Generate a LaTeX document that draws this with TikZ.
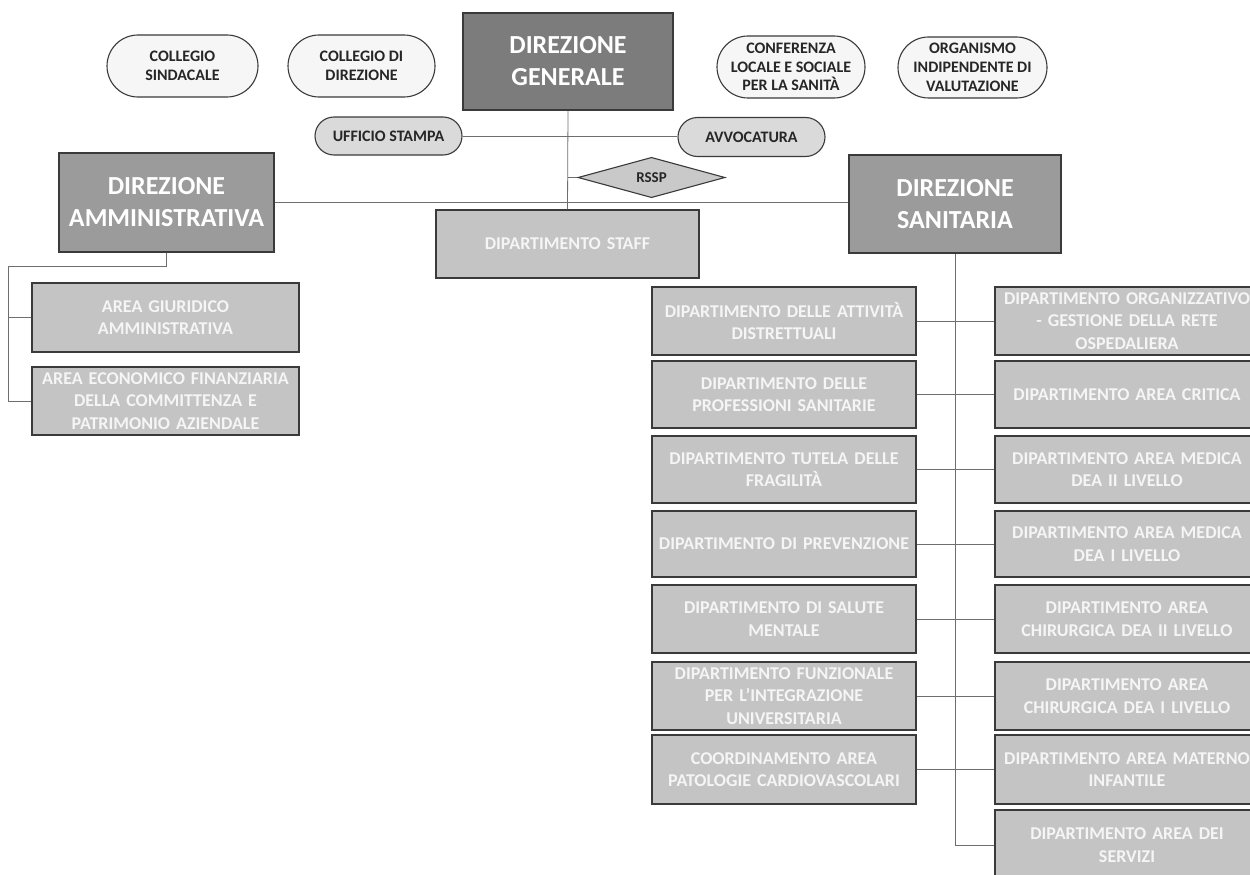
\documentclass[tikz,border=0pt]{standalone}
\usepackage{fontspec}
\setmainfont{Carlito}
\usetikzlibrary{shapes.misc,shapes.geometric}
\definecolor{dgfill}{HTML}{7C7C7C}
\definecolor{dirfill}{HTML}{9B9B9B}
\definecolor{depfill}{HTML}{C4C4C4}
\definecolor{pillfill}{HTML}{F6F6F6}
\definecolor{pillgray}{HTML}{DADADA}
\definecolor{edge}{HTML}{3A3A3A}
\definecolor{wire}{HTML}{6E6E6E}
\tikzset{
  pill/.style={rounded rectangle, draw=edge, line width=1.1pt, fill=pillfill, align=center,
     inner sep=0pt, text=black!85, font=\bfseries\fontsize{16}{18.7}\selectfont},
  pillg/.style={pill, fill=pillgray},
  bigbox/.style={rectangle, draw=edge, line width=1.2pt, align=center, inner sep=0pt,
     text=white, font=\bfseries\fontsize{26}{32}\selectfont},
  depbox/.style={rectangle, draw=edge, line width=1.2pt, fill=depfill, align=center, inner xsep=0pt, inner ysep=0pt,
     text width=264pt, minimum height=67pt, text=white!96!black, font=\bfseries\fontsize{18}{22.5}\selectfont},
  wireline/.style={draw=wire, line width=0.8pt}
}
\begin{document}
\begin{tikzpicture}[x=1pt,y=-1pt]
\useasboundingbox (0,0) rectangle (1250,875);
\clip (0,0) rectangle (1250,875);
% top pills
\node[pill, minimum width=151pt, minimum height=62pt] (cs) at (182.5,66) {COLLEGIO\\SINDACALE};
\node[pill, minimum width=147pt, minimum height=62pt] (cd) at (361.5,66) {COLLEGIO DI\\DIREZIONE};
\node[pill, minimum width=148pt, minimum height=62pt] (cf) at (791,67) {CONFERENZA\\LOCALE E SOCIALE\\PER LA SANITÀ};
\node[pill, minimum width=149pt, minimum height=61pt] (oiv) at (972.5,67.5) {ORGANISMO\\INDIPENDENTE DI\\VALUTAZIONE};
% direzione generale
\node[bigbox, fill=dgfill, minimum width=210pt, minimum height=97pt] (dg) at (568,61.5) {DIREZIONE\\GENERALE};
% staff pills
\node[pillg, minimum width=147pt, minimum height=38pt] (us) at (388.5,136) {UFFICIO STAMPA};
\node[pillg, minimum width=147pt, minimum height=39pt] (av) at (751.5,137) {AVVOCATURA};
\node[diamond, draw=edge, line width=1.1pt, fill=pillgray!92!black, inner sep=0pt, minimum width=147pt, minimum height=39pt,
      text=black!85, font=\bfseries\fontsize{15}{18}\selectfont] (rssp) at (651.5,177.5) {RSSP};
% direzioni
\node[bigbox, fill=dirfill, minimum width=215pt, minimum height=99pt] (da) at (166.5,202.5) {DIREZIONE\\AMMINISTRATIVA};
\node[bigbox, fill=dirfill, minimum width=212pt, minimum height=98pt] (ds) at (955,204) {DIREZIONE\\SANITARIA};
\node[depbox, text width=263pt, minimum height=68pt] (staff) at (567.5,244) {DIPARTIMENTO STAFF};
% area amministrativa
\node[depbox, text width=267pt, minimum height=69pt] (ag) at (165.5,317.5) {AREA GIURIDICO\\AMMINISTRATIVA};
\node[depbox, text width=267pt, minimum height=68pt] (ae) at (165.5,401) {AREA ECONOMICO FINANZIARIA\\DELLA COMMITTENZA E\\PATRIMONIO AZIENDALE};
% left column
\node[depbox, minimum height=68pt] (l1) at (784,321) {DIPARTIMENTO DELLE ATTIVITÀ\\DISTRETTUALI};
\node[depbox] (l2) at (784,394.5) {DIPARTIMENTO DELLE\\PROFESSIONI SANITARIE};
\node[depbox] (l3) at (784,469.5) {DIPARTIMENTO TUTELA DELLE\\FRAGILITÀ};
\node[depbox, minimum height=66pt] (l4) at (784,544) {DIPARTIMENTO DI PREVENZIONE};
\node[depbox, minimum height=68pt] (l5) at (784,619) {DIPARTIMENTO DI SALUTE\\MENTALE};
\node[depbox, minimum height=68pt] (l6) at (784,696) {DIPARTIMENTO FUNZIONALE\\PER L'INTEGRAZIONE\\UNIVERSITARIA};
\node[depbox, minimum height=69pt] (l7) at (784,769.5) {COORDINAMENTO AREA\\PATOLOGIE CARDIOVASCOLARI};
% right column
\node[depbox, minimum height=68pt] (r1) at (1127,321) {DIPARTIMENTO ORGANIZZATIVO\\- GESTIONE DELLA RETE\\OSPEDALIERA};
\node[depbox] (r2) at (1127,394.5) {DIPARTIMENTO AREA CRITICA};
\node[depbox] (r3) at (1127,469.5) {DIPARTIMENTO AREA MEDICA\\DEA II LIVELLO};
\node[depbox, minimum height=66pt] (r4) at (1127,544) {DIPARTIMENTO AREA MEDICA\\DEA I LIVELLO};
\node[depbox, minimum height=68pt] (r5) at (1127,619) {DIPARTIMENTO AREA\\CHIRURGICA DEA II LIVELLO};
\node[depbox, minimum height=68pt] (r6) at (1127,696) {DIPARTIMENTO AREA\\CHIRURGICA DEA I LIVELLO};
\node[depbox, minimum height=69pt] (r7) at (1127,769.5) {DIPARTIMENTO AREA MATERNO\\INFANTILE};
\node[depbox, minimum height=70pt] (r8) at (1127,845) {DIPARTIMENTO AREA DEI\\SERVIZI};
% connectors
\coordinate (abus) at (8,266);
\draw[wireline] (dg.south) -- (staff.north);
\draw[wireline] (us.east) -- (us.east -| av.west);
\draw[wireline] (rssp.west) -- (rssp.west -| dg.south);
\draw[wireline] (da.east) -- (da.east -| ds.west);
\draw[wireline] (da.south) |- (abus) |- (ag.west);
\draw[wireline] (abus) |- (ae.west);
\draw[wireline] (ds.south) |- (r8.west);
\foreach \i in {1,...,7} { \draw[wireline] (l\i.east) -- (l\i.east -| r\i.west); }
\end{tikzpicture}
\end{document}
